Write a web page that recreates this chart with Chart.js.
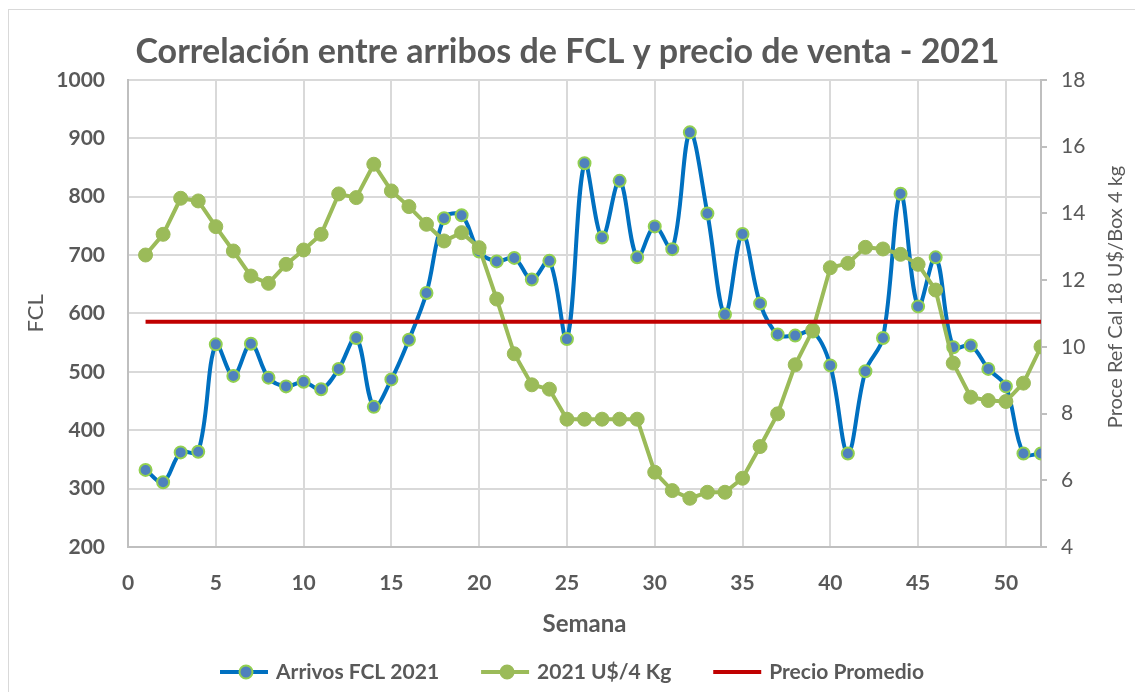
<!DOCTYPE html>
<html>
<head>
<meta charset="utf-8">
<script src="https://cdn.jsdelivr.net/npm/chart.js@4"></script>
<style>
  html, body { margin: 0; padding: 0; background: #fff; }
  #wrap { position: relative; width: 1135px; height: 692px; overflow: hidden; }
  #frame { position: absolute; left: 8px; top: 9px; width: 1200px; height: 800px; border: 1px solid #d9d9d9; }
  canvas { position: absolute; left: 0; top: 0; }
</style>
</head>
<body>
<div id="wrap">
  <div id="frame"></div>
  <canvas id="chart" width="1135" height="692"></canvas>
</div>
<script>
// datos
const semanas = [1,2,3,4,5,6,7,8,9,10,11,12,13,14,15,16,17,18,19,20,21,22,23,24,25,26,
  27,28,29,30,31,32,33,34,35,36,37,38,39,40,41,42,43,44,45,46,47,48,49,50,51,52];
const arribosFCL = [332,311,362,363,547,493,548,490,475,483,470,505,558,440,487,555,635,763,768,706,689,695,658,690,556,857,
  730,827,696,749,710,910,771,598,736,617,564,562,569,511,360,501,558,805,612,696,542,545,505,475,360,360];
const precioKg = [12.75,13.37,14.45,14.37,13.6,12.87,12.12,11.9,12.47,12.9,13.37,14.58,14.47,15.47,14.67,14.2,13.67,13.17,13.42,12.97,11.43,9.79,8.86,8.73,7.83,7.83,
  7.83,7.83,7.83,6.24,5.69,5.46,5.64,5.64,6.06,7.01,7.99,9.46,10.5,12.37,12.5,12.98,12.93,12.77,12.47,11.7,9.51,8.49,8.39,8.36,8.91,10.0];
const precioPromedio = 10.75;

const ticksSemana = [0, 5, 10, 15, 20, 25, 30, 35, 40, 45, 50];
const ticksFCL = [200, 1000, 100];
const ticksPrecio = [4, 18, 2];

const gris = '#595959';
const fuente = 'Lato';

// leyenda y titulo derecho dibujados a mano
const extras = {
  id: 'extras',
  afterDraw(chart) {
    const ctx = chart.ctx;
    ctx.save();
    // titulo eje derecho (de abajo hacia arriba)
    ctx.fillStyle = gris;
    ctx.font = '20px ' + fuente;
    ctx.textAlign = 'center';
    ctx.textBaseline = 'middle';
    ctx.translate(1116, 297);
    ctx.rotate(-Math.PI / 2);
    ctx.fillText('Proce Ref Cal 18 U$/Box 4 kg', 0, 0);
    ctx.restore();

    ctx.save();
    ctx.font = 'bold 21px ' + fuente;
    ctx.textBaseline = 'middle';
    let x = 220;
    const y = 672;
    chart.data.datasets.forEach(ds => {
      ctx.strokeStyle = ds.borderColor;
      ctx.lineWidth = 4;
      ctx.beginPath();
      ctx.moveTo(x, y);
      ctx.lineTo(x + 48, y);
      ctx.stroke();
      if (ds.pointRadius > 0) {
        ctx.beginPath();
        ctx.arc(x + 26, y, 6.5, 0, Math.PI * 2);
        ctx.fillStyle = ds.pointBackgroundColor;
        ctx.fill();
        ctx.lineWidth = 2;
        ctx.strokeStyle = ds.pointBorderColor;
        ctx.stroke();
      }
      ctx.fillStyle = gris;
      ctx.textAlign = 'left';
      ctx.fillText(ds.label, x + 56, y);
      x += 56 + ctx.measureText(ds.label).width + 42;
    });
    ctx.restore();
  }
};

const ctx = document.getElementById('chart').getContext('2d');
const chart = new Chart(ctx, {
  type: 'line',
  data: {
    datasets: [
      {
        label: 'Arrivos FCL 2021',
        data: semanas.map((s, i) => ({ x: s, y: arribosFCL[i] })),
        yAxisID: 'y',
        borderColor: '#0070C0',
        borderWidth: 4,
        pointRadius: 6,
        pointBackgroundColor: '#4F81BD',
        pointBorderColor: '#92D050',
        pointBorderWidth: 2,
        tension: 0.35,
        order: 3
      },
      {
        label: '2021 U$/4 Kg',
        data: semanas.map((s, i) => ({ x: s, y: precioKg[i] })),
        yAxisID: 'y1',
        borderColor: '#9BBB59',
        borderWidth: 4,
        pointRadius: 7,
        pointBackgroundColor: '#9BBB59',
        pointBorderColor: '#9BBB59',
        pointBorderWidth: 1,
        tension: 0,
        order: 2
      },
      {
        label: 'Precio Promedio',
        data: semanas.map(s => ({ x: s, y: precioPromedio })),
        yAxisID: 'y1',
        borderColor: '#C00000',
        borderWidth: 4,
        pointRadius: 0,
        order: 1
      }
    ]
  },
  options: {
    responsive: false,
    animation: false,
    layout: { padding: { top: 4, left: 0, right: 0, bottom: 0 } },
    plugins: {
      legend: { display: false },
      tooltip: { enabled: false },
      title: {
        display: true,
        text: 'Correlación entre arribos de FCL y precio de venta - 2021',
        color: gris,
        font: { family: fuente, size: 34, weight: 'bold', lineHeight: 1.2 },
        padding: { top: 28, bottom: 7 }
      }
    },
    scales: {
      x: {
        type: 'linear',
        min: 0,
        max: 52,
        afterBuildTicks: s => { s.ticks = ticksSemana.map(v => ({ value: v })); },
        afterFit: s => { s.height = 145; },
        ticks: { autoSkip: false, maxRotation: 0, color: gris, padding: 24, font: { family: fuente, size: 21, weight: 'bold' } },
        grid: { color: '#d9d9d9', lineWidth: 2, drawTicks: false },
        border: { color: '#bfbfbf', width: 2 },
        title: { display: true, text: 'Semana', color: gris, font: { family: fuente, size: 24, weight: 'bold' }, padding: { bottom: 53 } }
      },
      y: {
        position: 'left',
        min: ticksFCL[0],
        max: ticksFCL[1],
        afterFit: s => { s.width = 128; },
        ticks: { stepSize: ticksFCL[2], color: gris, padding: 23, font: { family: fuente, size: 21, weight: 'bold' }, callback: v => String(v) },
        grid: { color: '#d9d9d9', lineWidth: 2, drawTicks: false },
        border: { color: '#bfbfbf', width: 2 },
        title: { display: true, text: 'FCL', color: gris, font: { family: fuente, size: 22 }, padding: { top: 23 } }
      },
      y1: {
        position: 'right',
        min: ticksPrecio[0],
        max: ticksPrecio[1],
        afterFit: s => { s.width = 94; },
        ticks: { stepSize: ticksPrecio[2], color: gris, padding: 14, font: { family: fuente, size: 21 } },
        grid: { drawOnChartArea: false, color: '#bfbfbf', lineWidth: 2, tickLength: 6 },
        border: { color: '#bfbfbf', width: 2 }
      }
    }
  },
  plugins: [extras]
});
</script>
</body>
</html>
